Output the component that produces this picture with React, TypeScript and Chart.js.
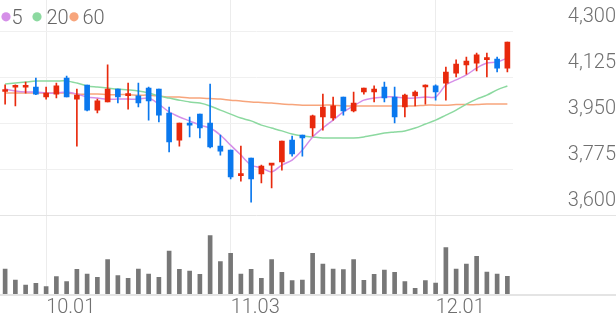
import React, { useEffect, useRef } from 'react';
import { Chart, registerables } from 'chart.js';

Chart.register(...registerables);

const dates = [
  '09.25', '09.26', '09.29', '09.30', '10.01', '10.02', '10.10', '10.13', '10.14', '10.15',
  '10.16', '10.17', '10.20', '10.21', '10.22', '10.23', '10.24', '10.27', '10.28', '10.29',
  '10.30', '10.31', '11.03', '11.04', '11.05', '11.06', '11.07', '11.10', '11.11', '11.12',
  '11.13', '11.14', '11.17', '11.18', '11.19', '11.20', '11.21', '11.24', '11.25', '11.26',
  '11.27', '11.28', '12.01', '12.02', '12.03', '12.04', '12.05', '12.08', '12.09', '12.10',
];

const opens = [
  4070, 4086, 4086, 4087, 4049, 4060, 4121, 4041, 4094, 3999,
  4030, 4079, 4054, 4053, 4083, 4079, 3988, 3885, 3950, 3984,
  3950, 3862, 3847, 3750, 3817, 3756, 3790, 3802, 3885, 3904,
  3931, 3973, 3969, 4049, 3996, 4068, 4068, 4087, 4049, 4011,
  4053, 4087, 4091, 4102, 4140, 4171, 4178, 4191, 4193, 4159,
];
const highs = [
  4095, 4095, 4106, 4121, 4087, 4102, 4129, 4079, 4094, 4041,
  4171, 4079, 4102, 4102, 4087, 4079, 4011, 3950, 3973, 3984,
  4098, 3904, 3847, 3862, 3817, 3790, 3796, 3881, 3900, 3904,
  3980, 4060, 4049, 4049, 4068, 4083, 4091, 4106, 4087, 4060,
  4072, 4095, 4095, 4163, 4190, 4201, 4216, 4216, 4201, 4258,
];
const lows = [
  4022, 4015, 4064, 4058, 4041, 4045, 4049, 3862, 3996, 3988,
  4030, 4026, 4003, 4011, 3961, 3954, 3840, 3862, 3897, 3893,
  3855, 3828, 3737, 3729, 3649, 3722, 3703, 3771, 3824, 3824,
  3900, 3923, 3961, 3980, 3992, 4060, 4030, 4030, 3950, 3973,
  4015, 4022, 4037, 4037, 4125, 4136, 4148, 4125, 4144, 4144,
];
const closes = [
  4074, 4089, 4089, 4060, 4064, 4091, 4049, 4056, 3999, 4034,
  4079, 4049, 4058, 4026, 4034, 3980, 3878, 3950, 3942, 3931,
  3859, 3843, 3745, 3754, 3737, 3786, 3794, 3881, 3832, 3893,
  3977, 4011, 4015, 3996, 4026, 4083, 4079, 4045, 3973, 4056,
  4068, 4091, 4068, 4144, 4174, 4186, 4209, 4195, 4159, 4258,
];
const volumes = [
  250000, 140000, 90000, 107000, 73000, 173000, 123000, 247000, 200000, 167000,
  343000, 183000, 157000, 250000, 200000, 167000, 430000, 247000, 230000, 197000,
  583000, 323000, 407000, 200000, 247000, 157000, 343000, 217000, 133000, 140000,
  407000, 300000, 250000, 243000, 343000, 137000, 197000, 240000, 217000, 123000,
  57000, 133000, 110000, 463000, 250000, 300000, 377000, 220000, 200000, 177000,
];
const ma5 = [
  4079, 4072, 4068, 4068, 4064, 4064, 4068, 4060, 4049, 4045,
  4041, 4041, 4041, 4041, 4045, 4022, 3992, 3973, 3958, 3942,
  3931, 3904, 3866, 3828, 3790, 3779, 3764, 3790, 3809, 3847,
  3897, 3931, 3961, 3992, 4015, 4037, 4045, 4049, 4049, 4045,
  4045, 4049, 4049, 4095, 4114, 4133, 4159, 4178, 4182, 4197,
];
const ma20 = [
  4098, 4102, 4106, 4110, 4110, 4110, 4110, 4102, 4091, 4087,
  4083, 4079, 4076, 4072, 4064, 4053, 4045, 4037, 4030, 4026,
  4015, 3999, 3984, 3969, 3958, 3942, 3931, 3920, 3908, 3901,
  3897, 3893, 3893, 3893, 3893, 3897, 3904, 3912, 3916, 3920,
  3931, 3946, 3961, 3980, 3999, 4022, 4041, 4056, 4076, 4091,
];
const ma60 = [
  4064, 4064, 4064, 4064, 4064, 4064, 4064, 4060, 4060, 4060,
  4058, 4058, 4058, 4056, 4056, 4053, 4049, 4049, 4045, 4045,
  4043, 4041, 4037, 4034, 4030, 4028, 4026, 4022, 4020, 4018,
  4018, 4018, 4018, 4015, 4015, 4015, 4015, 4015, 4015, 4015,
  4015, 4018, 4018, 4018, 4020, 4020, 4020, 4022, 4022, 4022,
];
const priceTicks = [3600, 3775, 3950, 4125, 4300];
const dateTicks = ['10.01', '11.03', '12.01'];
const maLabels = ['5', '20', '60'];

const PRICE_MIN = 3299.5;
const PRICE_MAX = 4418;
const VOL_MAX = 2940000;

const RED = '#e8290c';
const BLUE = '#0a78ee';
const VOL_COLOR = '#777777';
const MA_COLORS = ['#d58fe8', '#8cd9a0', '#f7a57c'];
const TEXT_COLOR = '#707070';
const FONT_FAMILY = 'Roboto, "Noto Sans", sans-serif';

const overlayPlugin = {
  id: 'overlay',
  afterDraw(chart: any) {
    const ctx = chart.ctx as CanvasRenderingContext2D;
    const area = chart.chartArea;
    const yScale = chart.scales.y;
    ctx.save();
    // bottom line of the price pane, extended across the axis
    const yb = Math.round(yScale.getPixelForValue(priceTicks[0])) + 0.5;
    ctx.strokeStyle = '#e4e4e4';
    ctx.lineWidth = 1;
    ctx.beginPath();
    ctx.moveTo(area.right, yb);
    ctx.lineTo(chart.width, yb);
    ctx.stroke();
    // volume baseline
    ctx.fillStyle = '#e4e4e4';
    ctx.fillRect(0, Math.round(area.bottom), chart.width, 2);

    // MA legend
    const dotX = [6, 37, 74];
    const textX = [11.5, 46.5, 82.5];
    ctx.font = `300 20px ${FONT_FAMILY}`;
    ctx.textBaseline = 'alphabetic';
    ctx.textAlign = 'left';
    maLabels.forEach((lab, i) => {
      ctx.fillStyle = MA_COLORS[i];
      ctx.beginPath();
      ctx.arc(dotX[i], 16.8, 4.6, 0, Math.PI * 2);
      ctx.fill();
      ctx.fillStyle = '#666666';
      ctx.fillText(lab, textX[i], 24);
    });
    ctx.restore();
  },
};

export default function App() {
  const ref = useRef<HTMLCanvasElement>(null);

  useEffect(() => {
    document.body.style.margin = '0';
    const colors = opens.map((o, i) => (closes[i] >= o ? RED : BLUE));
    const tickFont = { family: FONT_FAMILY, size: 20, weight: '300' as any };

    const chart = new Chart(ref.current as HTMLCanvasElement, {
      type: 'bar',
      data: {
        labels: dates,
        datasets: [
          {
            type: 'line', label: 'MA5', data: ma5, borderColor: MA_COLORS[0], borderWidth: 1.5,
            pointRadius: 0, tension: 0.3, yAxisID: 'y', order: 6,
          } as any,
          {
            type: 'line', label: 'MA20', data: ma20, borderColor: MA_COLORS[1], borderWidth: 1.5,
            pointRadius: 0, tension: 0.3, yAxisID: 'y', order: 7,
          } as any,
          {
            type: 'line', label: 'MA60', data: ma60, borderColor: MA_COLORS[2], borderWidth: 1.5,
            pointRadius: 0, tension: 0.3, yAxisID: 'y', order: 8,
          } as any,
          {
            type: 'bar', label: 'wick', data: lows.map((l, i) => [l, highs[i]]),
            backgroundColor: colors, barThickness: 1, grouped: false, yAxisID: 'y', order: 2,
          } as any,
          {
            type: 'bar', label: 'body', data: opens.map((o, i) => [o, closes[i]]),
            backgroundColor: colors, barThickness: 5, minBarLength: 2, grouped: false, yAxisID: 'y', order: 1,
          } as any,
          {
            type: 'bar', label: 'volume', data: volumes, backgroundColor: VOL_COLOR,
            barThickness: 4, grouped: false, yAxisID: 'yv', order: 3,
          } as any,
        ],
      },
      options: {
        responsive: false,
        animation: false,
        devicePixelRatio: 1,
        events: [],
        layout: { padding: 0 },
        plugins: { legend: { display: false }, tooltip: { enabled: false } },
        scales: {
          x: {
            type: 'category',
            offset: true,
            grid: { offset: false, color: '#ececec', drawTicks: false },
            border: { display: false },
            ticks: {
              autoSkip: false,
              maxRotation: 0,
              minRotation: 0,
              align: 'start',
              padding: 2,
              color: TEXT_COLOR,
              font: tickFont,
              callback: function (this: any, value: any) {
                const l = this.getLabelForValue(value);
                return dateTicks.includes(l) ? l : null;
              },
            },
            afterFit: (s: any) => {
              s.height = 27;
              s.paddingLeft = 0;
              s.paddingRight = 0;
            },
          } as any,
          y: {
            position: 'right',
            min: PRICE_MIN,
            max: PRICE_MAX,
            afterBuildTicks: (s: any) => {
              s.ticks = priceTicks.map((v) => ({ value: v }));
            },
            grid: {
              color: (c: any) => (c.tick && c.tick.value === priceTicks[0] ? '#e4e4e4' : '#f0f0f0'),
              drawTicks: false,
            },
            border: { display: false },
            ticks: {
              crossAlign: 'far',
              padding: 50,
              labelOffset: -14,
              color: TEXT_COLOR,
              font: tickFont,
              callback: (v: any) => Number(v).toLocaleString('en-US'),
            },
            afterFit: (s: any) => {
              s.width = 103.5;
              s.paddingTop = 0;
              s.paddingBottom = 0;
            },
          } as any,
          yv: {
            display: false,
            position: 'right',
            min: 0,
            max: VOL_MAX,
          } as any,
        },
      },
      plugins: [overlayPlugin],
    });
    return () => chart.destroy();
  }, []);

  return (
    <div style={{ position: 'fixed', left: 0, top: 0, width: 616, height: 321, background: '#fff' }}>
      <canvas ref={ref} width={616} height={321} style={{ display: 'block', width: 616, height: 321 }} />
    </div>
  );
}
